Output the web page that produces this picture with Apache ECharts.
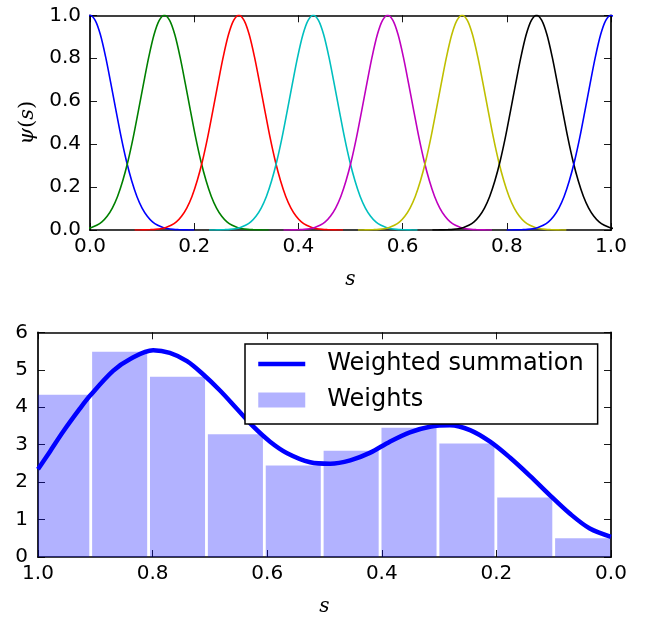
<!DOCTYPE html>
<html><head><meta charset="utf-8">
<script src="https://cdn.jsdelivr.net/npm/echarts/dist/echarts.min.js"></script>
<style>html,body{margin:0;padding:0;background:#fff}#c{width:649px;height:618px}</style>
</head><body><div id="c"></div>
<script>
// ---- top panel: basis functions psi(s) ----
const psiCenters = [0, 1/7, 2/7, 3/7, 4/7, 5/7, 6/7, 1];
const psiColors = ['#0000ff', '#008000', '#ff0000', '#00bfbf', '#bf00bf', '#bfbf00', '#000000', '#0000ff'];
// one basis-function shape (distance from centre -> value)
const psiOffsets = [0, 0.01, 0.02, 0.03, 0.04, 0.05, 0.06, 0.07, 0.08, 0.09, 0.10,
                    0.11, 0.12, 0.13, 0.14, 0.15, 0.16, 0.17, 0.18, 0.19, 0.20];
const psiProfile = [1.000, 0.976, 0.909, 0.806, 0.683, 0.555, 0.430, 0.320, 0.229, 0.156, 0.102,
                    0.064, 0.038, 0.022, 0.012, 0.006, 0.003, 0.0015, 0.0006, 0.0002, 0.0];

// ---- bottom panel: weights and weighted summation ----
const barCenters = [0.9585, 0.8575, 0.7565, 0.6555, 0.5545, 0.4535, 0.3525, 0.2515, 0.1505, 0.0495];
const barWeights = [4.33, 5.48, 4.81, 3.28, 2.44, 2.84, 3.45, 3.03, 1.59, 0.50];
const barWidthS = 0.101;
const sumS = [0.000, 0.037, 0.072, 0.106, 0.141, 0.176, 0.211, 0.246, 0.281, 0.316, 0.351, 0.386,
              0.421, 0.455, 0.490, 0.525, 0.566, 0.595, 0.624, 0.653, 0.682, 0.712, 0.740, 0.770,
              0.799, 0.839, 0.869, 0.909, 0.927, 0.956, 0.979, 1.000];
const sumValues = [0.54, 0.76, 1.16, 1.64, 2.16, 2.65, 3.08, 3.39, 3.52, 3.48, 3.33, 3.08,
                   2.78, 2.58, 2.49, 2.53, 2.78, 3.08, 3.48, 3.96, 4.44, 4.88, 5.23, 5.45,
                   5.52, 5.29, 4.97, 4.31, 3.96, 3.35, 2.82, 2.34];

const FONT = 'DejaVu Sans';

function psiCurve(c) {
  const pts = [];
  for (let i = psiOffsets.length - 1; i > 0; i--) pts.push([c - psiOffsets[i], psiProfile[i]]);
  for (let i = 0; i < psiOffsets.length; i++) pts.push([c + psiOffsets[i], psiProfile[i]]);
  return pts;
}

const chart = echarts.init(document.getElementById('c'), null, {renderer: 'canvas'});

function baseAxis(extra) {
  return Object.assign({
    type: 'value',
    axisLine: {show: true, onZero: false, lineStyle: {color: '#000', width: 1.7}},
    axisTick: {show: true, inside: true, length: 7, lineStyle: {color: '#000', width: 0.9}},
    splitLine: {show: false},
    axisLabel: {show: true, color: '#000', fontFamily: FONT, fontSize: 20,
                showMinLabel: true, showMaxLabel: true},
  }, extra);
}
function mirror(a) {
  a.axisLabel = {show: false};
  a.name = '';
  return a;
}

const nameStyle = {
  fontFamily: 'DejaVu Serif', fontStyle: 'italic', fontSize: 20, color: '#000',
  rich: {
    i: {fontFamily: 'DejaVu Serif', fontStyle: 'italic', fontSize: 21, color: '#000'},
    n: {fontFamily: 'DejaVu Serif', fontStyle: 'normal', fontSize: 21, color: '#000'}
  }
};

const series = [];
psiCenters.forEach((c, k) => {
  series.push({
    type: 'line', xAxisIndex: 0, yAxisIndex: 0, data: psiCurve(c),
    showSymbol: false, symbol: 'none', smooth: 0.3, clip: true,
    lineStyle: {color: psiColors[k], width: 1.6}, itemStyle: {color: psiColors[k]},
    silent: true, z: 2 + k * 0.01
  });
});
series.push({
  name: 'Weights', type: 'custom', xAxisIndex: 2, yAxisIndex: 2,
  data: barCenters.map((c, i) => [c, barWeights[i]]),
  encode: {x: 0, y: 1},
  itemStyle: {color: 'rgba(0,0,255,0.3)'},
  renderItem: function (params, api) {
    const c = api.value(0), h = api.value(1);
    const p1 = api.coord([c + barWidthS / 2, h]);
    const p2 = api.coord([c - barWidthS / 2, 0]);
    const gap = 1.4;
    const x0 = Math.min(p1[0], p2[0]) + gap, x1 = Math.max(p1[0], p2[0]) - gap;
    const shape = echarts.graphic.clipRectByRect(
      {x: x0, y: p1[1], width: x1 - x0, height: p2[1] - p1[1]},
      {x: params.coordSys.x, y: params.coordSys.y, width: params.coordSys.width, height: params.coordSys.height});
    return shape && {type: 'rect', shape: shape, style: api.style()};
  },
  z: 2
});
series.push({
  name: 'Weighted summation', type: 'line', xAxisIndex: 2, yAxisIndex: 2,
  data: sumS.map((s, i) => [s, sumValues[i]]),
  showSymbol: false, symbol: 'none', smooth: 0.33, clip: true,
  lineStyle: {color: '#0000ff', width: 4.5}, itemStyle: {color: '#0000ff'}, z: 3
});

chart.setOption({
  animation: false,
  backgroundColor: '#fff',
  grid: [
    {left: 90, right: 38, top: 15.3, height: 214.7},
    {left: 38, right: 38, top: 332.3, height: 228.4}
  ],
  xAxis: [
    baseAxis({gridIndex: 0, position: 'bottom', min: 0, max: 1, interval: 0.2,
      axisLabel: {color: '#000', fontFamily: FONT, fontSize: 20, margin: 7, showMinLabel: true, showMaxLabel: true,
                  formatter: v => v.toFixed(1)},
      name: 's', nameLocation: 'middle', nameGap: 40, nameTextStyle: nameStyle}),
    mirror(baseAxis({gridIndex: 0, position: 'top', min: 0, max: 1, interval: 0.2})),
    baseAxis({gridIndex: 1, position: 'bottom', min: 0, max: 1, interval: 0.2, inverse: true,
      axisLabel: {color: '#000', fontFamily: FONT, fontSize: 20, margin: 7, showMinLabel: true, showMaxLabel: true,
                  formatter: v => v.toFixed(1)},
      name: 's', nameLocation: 'middle', nameGap: 40, nameTextStyle: nameStyle}),
    mirror(baseAxis({gridIndex: 1, position: 'top', min: 0, max: 1, interval: 0.2, inverse: true}))
  ],
  yAxis: [
    baseAxis({gridIndex: 0, position: 'left', min: 0, max: 1, interval: 0.2,
      axisLabel: {color: '#000', fontFamily: FONT, fontSize: 20, margin: 9, showMinLabel: true, showMaxLabel: true,
                  formatter: v => v.toFixed(1)},
      name: '{i|ψ}{n|(}{i|s}{n|)}', nameLocation: 'middle', nameGap: 50, nameRotate: 90, nameTextStyle: nameStyle}),
    mirror(baseAxis({gridIndex: 0, position: 'right', min: 0, max: 1, interval: 0.2})),
    baseAxis({gridIndex: 1, position: 'left', min: 0, max: 6, interval: 1,
      axisLabel: {color: '#000', fontFamily: FONT, fontSize: 20, margin: 10, showMinLabel: true, showMaxLabel: true}}),
    mirror(baseAxis({gridIndex: 1, position: 'right', min: 0, max: 6, interval: 1}))
  ],
  legend: {
    orient: 'vertical', left: 245, top: 344,
    data: [
      {name: 'Weighted summation', itemStyle: {color: 'rgba(0,0,0,0)', borderWidth: 0, opacity: 0},
       lineStyle: {color: '#0000ff', width: 4.5}},
      {name: 'Weights', icon: 'rect'}
    ],
    itemWidth: 47, itemHeight: 15, itemGap: 12,
    borderColor: '#000', borderWidth: 1.5, borderRadius: 0, padding: [8, 14, 12, 11],
    backgroundColor: '#fff', selectedMode: false,
    textStyle: {fontFamily: FONT, fontSize: 24, color: '#000', lineHeight: 24, padding: [0, 0, 0, 17]}
  },
  series: series
});
</script></body></html>
